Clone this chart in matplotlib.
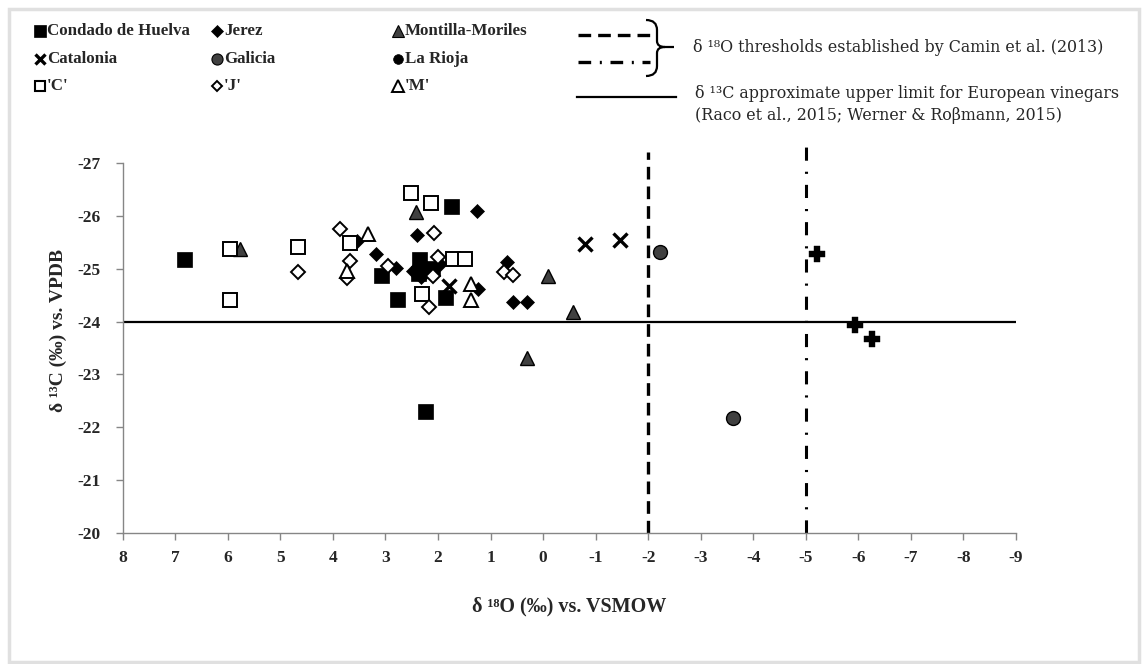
import matplotlib
matplotlib.use('Agg')
import matplotlib.pyplot as plt
from matplotlib.lines import Line2D
from matplotlib.path import Path
from matplotlib.patches import PathPatch, Rectangle

plt.rcParams['font.family'] = ['Liberation Serif', 'DejaVu Serif']

# ---------------- data (delta18O, delta13C) ----------------
huelva_x = [6.84, 1.76, 2.36, 2.38, 2.12, 3.08, 2.78, 1.86, 2.24]
huelva_y = [-25.18, -26.18, -25.18, -24.92, -25.02, -24.88, -24.42, -24.46, -22.30]

jerez_x = [1.26, 2.40, 3.18, 2.80, 2.47, 2.32, 1.97, 1.24, 0.68, 0.58, 0.30, 3.55]
jerez_y = [-26.10, -25.63, -25.28, -25.02, -24.95, -24.84, -25.08, -24.62, -25.12, -24.37, -24.37, -25.53]

montilla_x = [2.42, 5.76, -0.10, 0.31, -0.56]
montilla_y = [-26.07, -25.37, -24.87, -23.32, -24.18]

catalonia_x = [1.79, -0.80, -1.46]
catalonia_y = [-24.68, -25.46, -25.54]

galicia_x = [-2.22, -3.62]
galicia_y = [-25.31, -22.17]

rioja_x = [-5.21, -5.93, -6.26]
rioja_y = [-25.27, -23.93, -23.67]

c_x = [2.51, 2.13, 5.95, 4.67, 3.68, 1.72, 1.48, 5.95, 2.31]
c_y = [-26.44, -26.24, -25.38, -25.42, -25.49, -25.19, -25.19, -24.41, -24.53]

j_x = [3.87, 2.07, 4.66, 3.67, 3.74, 2.95, 2.00, 2.10, 2.17, 0.74, 0.57]
j_y = [-25.75, -25.68, -24.94, -25.14, -24.82, -25.05, -25.23, -24.86, -24.27, -24.93, -24.88]

m_x = [3.34, 3.74, 1.37, 1.37]
m_y = [-25.66, -24.95, -24.71, -24.40]

o18_thresholds = [-2, -5]
c13_limit = -24

x_ticks = list(range(8, -10, -1))
x_ticklabels = [str(v) for v in x_ticks]
y_ticks = list(range(-27, -19))
y_ticklabels = [str(v) for v in y_ticks]

legend_labels = ['Condado de Huelva', 'Jerez', 'Montilla-Moriles',
                 'Catalonia', 'Galicia', 'La Rioja', "'C'", "'J'", "'M'"]
text_thr = 'δ \u00b9\u2078O thresholds established by Camin et al. (2013)'
text_lim1 = 'δ \u00b9\u00b3C approximate upper limit for European vinegars'
text_lim2 = '(Raco et al., 2015; Werner & Roβmann, 2015)'
xlabel = 'δ \u00b9\u2078O (‰) vs. VSMOW'
ylabel = 'δ \u00b9\u00b3C (‰) vs. VPDB'

# ---------------- figure ----------------
W, H = 1145, 664
fig = plt.figure(figsize=(W / 100, H / 100), dpi=100)

def fx(px):
    return px / W

def fy(py):
    return 1 - py / H

fig.add_artist(Rectangle((fx(9), fy(662)), fx(1139) - fx(9), fy(9) - fy(662),
                         transform=fig.transFigure, fill=False,
                         edgecolor='#e0e0e0', lw=2.5))

ax = fig.add_axes([fx(122.7), fy(533), fx(1016) - fx(122.7), fy(163) - fy(533)])
ax.set_xlim(8, -9)
ax.set_ylim(-20, -27)

GRAY = '#404040'
ax.axhline(c13_limit, color='black', lw=1.6, zorder=2)
ax.plot([o18_thresholds[0]] * 2, [-20, -27.2], color='black', lw=2.4,
        ls=(0, (3.8, 2.1)), dash_capstyle='butt', clip_on=False, zorder=2)
ax.plot([o18_thresholds[1]] * 2, [-20, -27.3], color='black', lw=2.2,
        ls=(0, (4.3, 3.6, 0.7, 3.6)), dash_capstyle='butt', clip_on=False, zorder=2)

kw = dict(ls='none', zorder=3, clip_on=False)
ax.plot(huelva_x, huelva_y, marker='s', ms=10.8, mfc='black', mec='black', mew=0.5, **kw)
ax.plot(jerez_x, jerez_y, marker='D', ms=7.2, mfc='black', mec='black', mew=0.5, **kw)
ax.plot(montilla_x, montilla_y, marker='^', ms=10.5, mfc=GRAY, mec='black', mew=1.0, **kw)
ax.plot(catalonia_x, catalonia_y, marker='x', ms=10.5, mec='black', mew=2.4, **kw)
ax.plot(galicia_x, galicia_y, marker='o', ms=10.0, mfc=GRAY, mec='black', mew=1.0, **kw)
ax.plot(rioja_x, rioja_y, marker='P', ms=12.0, mfc='black', mec='black', mew=0.3, **kw)
ax.plot(c_x, c_y, marker='s', ms=10.0, mfc='white', mec='black', mew=1.4, **kw)
ax.plot(j_x, j_y, marker='D', ms=6.8, mfc='white', mec='black', mew=1.4, **kw)
ax.plot(m_x, m_y, marker='^', ms=10.5, mfc='white', mec='black', mew=1.4, **kw)

for s in ['top', 'right']:
    ax.spines[s].set_visible(False)
for s in ['left', 'bottom']:
    ax.spines[s].set_color('#868686')
    ax.spines[s].set_linewidth(1.0)

ax.set_xticks(x_ticks)
ax.set_xticklabels(x_ticklabels, fontsize=12.5, fontweight='bold', color='#262626')
ax.set_yticks(y_ticks)
ax.set_yticklabels(y_ticklabels, fontsize=12.5, fontweight='bold', color='#262626')
ax.tick_params(axis='both', direction='out', length=5, width=1, color='#868686')
ax.tick_params(axis='x', pad=7)
ax.tick_params(axis='y', pad=11)

fig.text(fx(569), fy(606), xlabel, ha='center', va='center', fontsize=14.5,
         fontweight='bold', color='#262626')
fig.text(fx(58), fy(330), ylabel, ha='center', va='center', rotation=90,
         fontsize=14, fontweight='bold', color='#262626')

# ---------------- legend ----------------
col_x = [40, 217, 398]
row_y = [31, 59, 86]
leg_styles = [
    dict(marker='s', ms=8, mfc='black', mec='black', mew=0.5),
    dict(marker='D', ms=5.8, mfc='black', mec='black', mew=0.5),
    dict(marker='^', ms=8.5, mfc=GRAY, mec='black', mew=0.8),
    dict(marker='x', ms=7.5, mec='black', mew=2.4),
    dict(marker='o', ms=8, mfc=GRAY, mec='black', mew=0.8),
    dict(marker='o', ms=7, mfc='black', mec='black', mew=0.5),
    dict(marker='s', ms=7.5, mfc='white', mec='black', mew=1.5),
    dict(marker='D', ms=5.5, mfc='white', mec='black', mew=1.4),
    dict(marker='^', ms=8.5, mfc='white', mec='black', mew=1.4),
]
for i, (lab, st) in enumerate(zip(legend_labels, leg_styles)):
    cx = col_x[i % 3]
    cy = row_y[i // 3]
    fig.add_artist(Line2D([fx(cx)], [fy(cy)], transform=fig.transFigure, ls='none', **st))
    fig.text(fx(cx + 7), fy(cy), lab, ha='left', va='center', fontsize=12.2,
             fontweight='bold', color='#262626')

fig.add_artist(Line2D([fx(578), fx(650)], [fy(35)] * 2, transform=fig.transFigure,
                      color='black', lw=2.4, ls=(0, (3.8, 2.1)), dash_capstyle='butt'))
fig.add_artist(Line2D([fx(578), fx(650)], [fy(62)] * 2, transform=fig.transFigure,
                      color='black', lw=2.4, ls=(0, (3.8, 2.6, 0.6, 2.6)), dash_capstyle='butt'))
fig.add_artist(Line2D([fx(577), fx(676)], [fy(97)] * 2, transform=fig.transFigure,
                      color='black', lw=1.6))

bp = [(646, 20), (657, 20), (657, 30), (657, 41), (657, 47), (665, 47),
      (657, 47), (657, 53), (657, 66), (657, 76), (646, 76), (665, 47), (674, 47)]
codes = [Path.MOVETO, Path.CURVE3, Path.CURVE3, Path.LINETO, Path.CURVE3, Path.CURVE3,
         Path.CURVE3, Path.CURVE3, Path.LINETO, Path.CURVE3, Path.CURVE3,
         Path.MOVETO, Path.LINETO]
brace = Path([(fx(x), fy(y)) for x, y in bp], codes)
fig.add_artist(PathPatch(brace, transform=fig.transFigure, fill=False,
                         edgecolor='black', lw=1.6))

serif_wide = ['DejaVu Serif', 'Liberation Serif']
fig.text(fx(693), fy(47), text_thr, ha='left', va='center', fontsize=11.4,
         color='#262626', family=serif_wide)
fig.text(fx(695), fy(94), text_lim1, ha='left', va='center', fontsize=11.4,
         color='#262626', family=serif_wide)
fig.text(fx(695), fy(116), text_lim2, ha='left', va='center', fontsize=11.4,
         color='#262626', family=serif_wide)

fig.savefig('out.png', dpi=100)
